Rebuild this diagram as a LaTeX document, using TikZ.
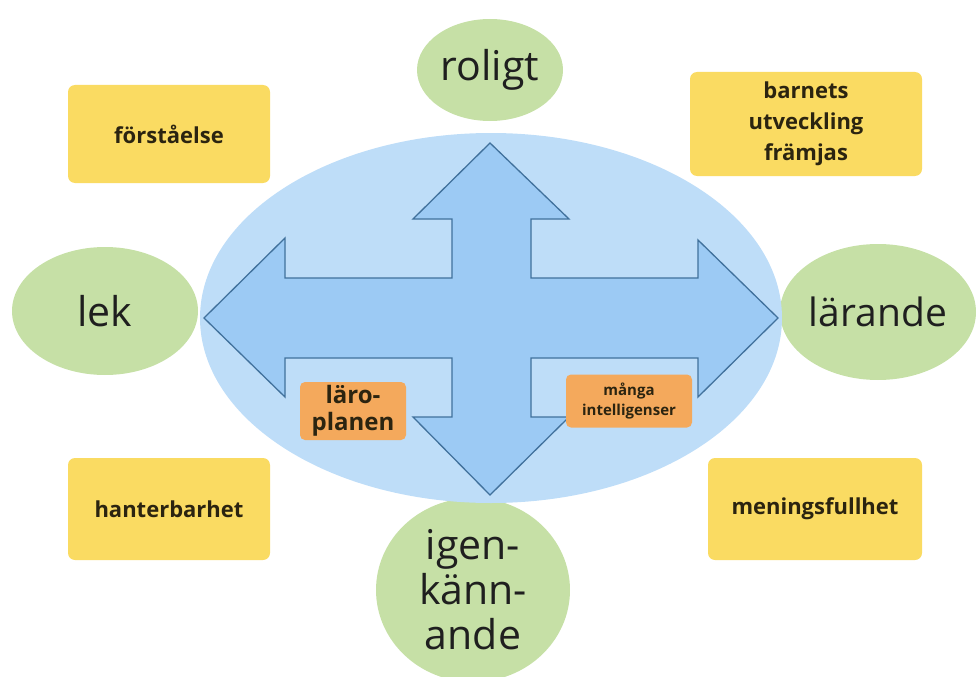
\documentclass[tikz,border=0pt]{standalone}
\usepackage{fontspec}
\setmainfont{Open Sans}
\usetikzlibrary{shapes.geometric}
\definecolor{bigblue}{HTML}{BEDDF8}
\definecolor{arrowfill}{HTML}{9CCAF4}
\definecolor{arrowline}{HTML}{41719C}
\definecolor{greenfill}{HTML}{C6E0A6}
\definecolor{yellowfill}{HTML}{FADB62}
\definecolor{orangefill}{HTML}{F4A95C}
\definecolor{darktext}{HTML}{2B2410}
\tikzset{
  greenell/.style={ellipse, fill=greenfill, inner sep=0pt, text=black!88, font=\fontsize{41}{45}\selectfont, align=center},
  yellowbox/.style={rounded corners=7pt, fill=yellowfill, inner sep=0pt, text=darktext, font=\bfseries\fontsize{22}{31}\selectfont, align=center},
  orangebox/.style={rounded corners=5pt, fill=orangefill, inner sep=0pt, text=darktext, align=center},
}
\begin{document}
\begin{tikzpicture}[x=1pt,y=-1pt]
\useasboundingbox (0,0) rectangle (978,677);
% green ellipses
\node[greenell, minimum width=146pt, minimum height=102pt] (roligt) at (490,70) {roligt};
\node[greenell, minimum width=186pt, minimum height=128pt] (lek) at (105,311) {lek};
\node[greenell, minimum width=196pt, minimum height=136pt] (larande) at (878,312) {\fontsize{39}{45}\selectfont lärande};
\node[greenell, minimum width=194pt, minimum height=184pt] (igen) at (473,590) {igen-\\känn-\\ande};
% big blue ellipse
\node[ellipse, fill=bigblue, minimum width=582pt, minimum height=370pt, inner sep=0pt] (center) at (491,318) {};
% four-way arrow
\draw[fill=arrowfill, draw=arrowline, line width=1.3pt, line join=miter]
 (490,143) -- (569,219) -- (531,219) -- (531,278) -- (698,278) -- (698,240)
 -- (778,318) -- (698,397) -- (698,358) -- (531,358) -- (531,417) -- (569,417)
 -- (490,495) -- (413,417) -- (452,417) -- (452,358) -- (285,358) -- (285,397)
 -- (204,318) -- (285,238) -- (285,278) -- (452,278) -- (452,219) -- (413,219) -- cycle;
% yellow boxes
\node[yellowbox, minimum width=202pt, minimum height=98pt] (forst) at (169,134) {förståelse};
\node[yellowbox, minimum width=232pt, minimum height=104pt] (barnets) at (806,124) {barnets\\utveckling\\främjas};
\node[yellowbox, minimum width=202pt, minimum height=102pt] (hant) at (169,509) {hanterbarhet};
\node[yellowbox, minimum width=214pt, minimum height=102pt] (menings) at (815,509) {meningsfullhet};
% orange boxes
\node[orangebox, minimum width=106pt, minimum height=58pt, font=\bfseries\fontsize{24}{27}\selectfont] (laro) at (353,411) {läro-\\planen};
\node[orangebox, minimum width=126pt, minimum height=53pt, font=\bfseries\fontsize{15}{20}\selectfont] (manga) at (629,401) {många\\intelligenser};
\end{tikzpicture}
\end{document}
